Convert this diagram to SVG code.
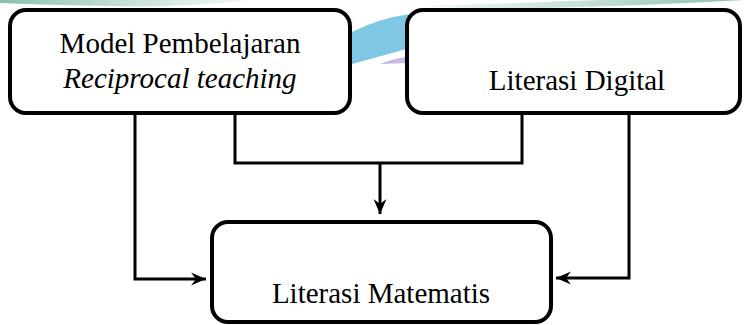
<svg xmlns="http://www.w3.org/2000/svg" width="744" height="325" viewBox="0 0 744 325">
  <defs>
    <style>
      .box { fill: #ffffff; stroke: #000000; stroke-width: 4; }
      .lbl { font-family: "Liberation Serif", "Times New Roman", serif; font-size: 29px; fill: #000000; text-anchor: middle; }
      .it { font-style: italic; }
      .conn { fill: none; stroke: #000000; stroke-width: 3; }
    </style>
    <marker id="arr" markerUnits="userSpaceOnUse" markerWidth="16" markerHeight="14" viewBox="-15 -7 16 14" refX="0" refY="0" orient="auto">
      <path d="M0,0 L-15,-6.5 L-10,0 L-15,6.5 Z" fill="#000000"/>
    </marker>
    <linearGradient id="wmG" x1="0" y1="0" x2="1" y2="0">
      <stop offset="0" stop-color="#5aa88a" stop-opacity="0.9"/>
      <stop offset="1" stop-color="#9cc9b6" stop-opacity="0.2"/>
    </linearGradient>
    <linearGradient id="wmG2" x1="0" y1="0" x2="1" y2="0">
      <stop offset="0" stop-color="#9cc9b6" stop-opacity="0.2"/>
      <stop offset="1" stop-color="#5aa88a" stop-opacity="0.9"/>
    </linearGradient>
    <clipPath id="clipL">
      <rect x="10" y="10" width="340" height="86"/>
    </clipPath>
  </defs>

  <rect x="0" y="0" width="744" height="325" fill="#ffffff"/>

  <g id="watermark">
    <path d="M0,0 L250,0 Q180,8 110,6 Q50,5 0,3 Z" fill="url(#wmG)" opacity="0.8"/>
    <path d="M420,6 Q520,3 600,0 L744,0 L744,0 Q640,6 540,8 Q470,9 420,6 Z" fill="url(#wmG2)" opacity="0.8"/>
    <path d="M352,32 Q380,18 410,14 L410,48 Q385,55 352,64 Z" fill="#7ec8e3"/>
    <path d="M385,62 Q398,58 410,56 L410,63 L380,64 Z" fill="#b9a7d6" opacity="0.8"/>
  </g>

  <g id="connectors">
    <path class="conn" d="M135,113 V279 H206" marker-end="url(#arr)"/>
    <path class="conn" d="M235,113 V163 H522 V113"/>
    <path class="conn" d="M380,163 V214" marker-end="url(#arr)"/>
    <path class="conn" d="M629,113 V278 H556" marker-end="url(#arr)"/>
  </g>

  <g id="node-model">
    <rect class="box" x="10" y="10" width="340" height="103" rx="16" ry="16"/>
    <text class="lbl" x="180" y="53">Model Pembelajaran</text>
    <text class="lbl it" x="180" y="88" clip-path="url(#clipL)">Reciprocal teaching</text>
  </g>

  <g id="node-digital">
    <rect class="box" x="407" y="10" width="333" height="103" rx="16" ry="16"/>
    <text class="lbl" x="577" y="90">Literasi Digital</text>
  </g>

  <g id="node-matematis">
    <rect class="box" x="212" y="222" width="339" height="100" rx="16" ry="16"/>
    <text class="lbl" x="381" y="303">Literasi Matematis</text>
  </g>
</svg>
